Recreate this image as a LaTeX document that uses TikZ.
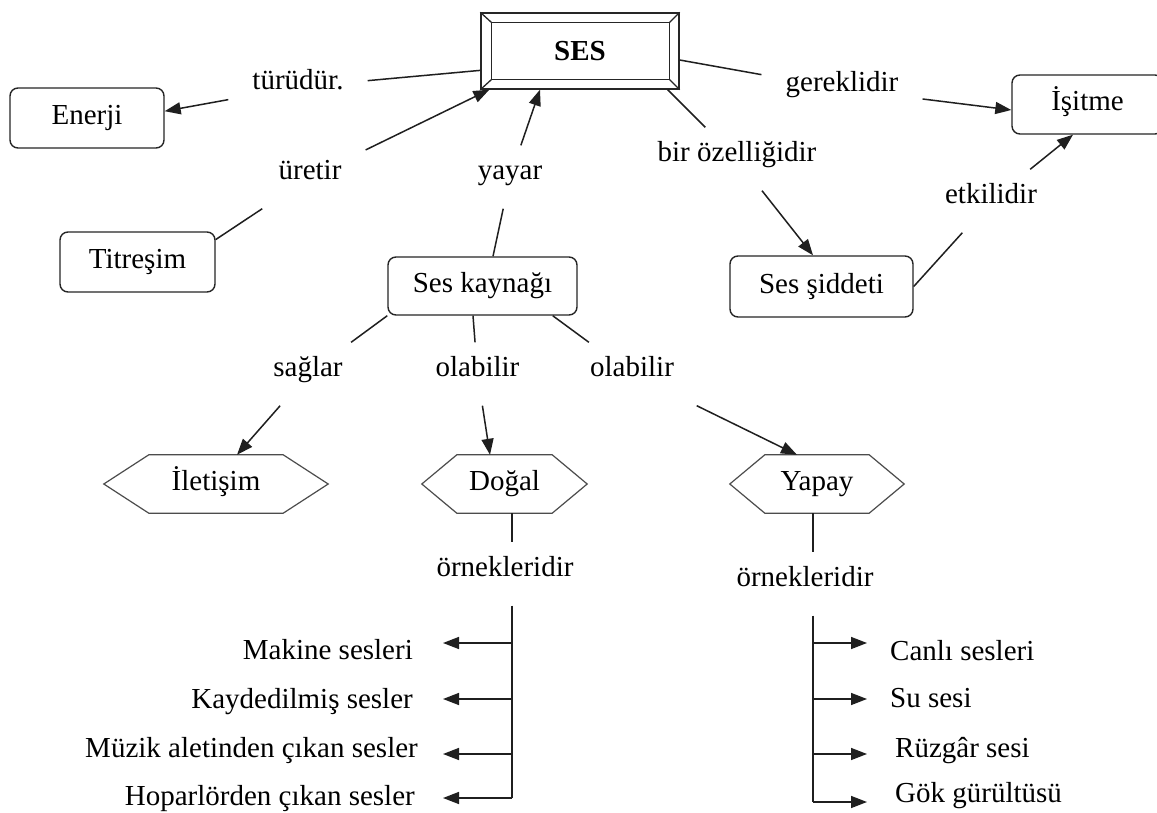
\documentclass[tikz,border=0pt]{standalone}
\usepackage{fontspec}
\setmainfont{Liberation Serif}
\usetikzlibrary{arrows.meta}
\tikzset{
  base/.style={font=\fontsize{29}{33}\selectfont},
  concept/.style={base, draw=black!85, line width=1.4pt, rounded corners=8pt, fill=white, inner sep=0pt, text height=19pt, text depth=6pt},
  hexnode/.style={base, inner sep=0pt, minimum height=58pt, text height=19pt, text depth=6pt},
  hexline/.style={draw=black!70, line width=1.2pt},
  lab/.style={base, inner xsep=24pt, inner ysep=19pt, text height=19pt, text depth=6pt},
  conn/.style={draw=black!88, line width=1.5pt},
  arr/.style={conn, -{Triangle[length=16pt,width=12pt]}},
  item/.style={base, inner sep=0pt},
  sesframe/.style={draw=black!85, line width=1.3pt},
}
\newcommand{\lt}[1]{\raisebox{4pt}{#1}}
\begin{document}
\begin{tikzpicture}[x=1pt,y=1pt]
\clip (0,0) rectangle (1157,-813);
\fill[white] (0,0) rectangle (1157,-813);

% SES frame
\node[sesframe, minimum width=198pt, minimum height=76pt, inner sep=0pt, font=\fontsize{29}{33}\selectfont\bfseries] (ses) at (580,-51) {SES};
\draw[sesframe] ([shift={(11,-10)}]ses.north west) rectangle ([shift={(-10,10)}]ses.south east);
\draw[sesframe] (ses.north west) -- ([shift={(11,-10)}]ses.north west);
\draw[sesframe] (ses.north east) -- ([shift={(-10,-10)}]ses.north east);
\draw[sesframe] (ses.south west) -- ([shift={(11,10)}]ses.south west);
\draw[sesframe] (ses.south east) -- ([shift={(-10,10)}]ses.south east);

% concepts
\node[concept, minimum width=154pt, minimum height=60pt] (ene) at (87,-118) {Enerji};
\node[concept, minimum width=155pt, minimum height=60pt] (tit) at (137.5,-262) {Titreşim};
\node[concept, minimum width=189pt, minimum height=58pt] (kay) at (482.5,-286) {Ses kaynağı};
\node[concept, minimum width=183pt, minimum height=61pt] (sid) at (821.5,-286.5) {Ses şiddeti};
\node[concept, minimum width=151pt, minimum height=59pt] (isi) at (1087.5,-104.5) {İşitme};

% hexagons
\node[hexnode, minimum width=224pt] (ile) at (216,-484) {İletişim};
\draw[hexline] (ile.west) -- ([xshift=45pt]ile.north west) -- ([xshift=-45pt]ile.north east) -- (ile.east) -- ([xshift=-45pt]ile.south east) -- ([xshift=45pt]ile.south west) -- cycle;
\node[hexnode, minimum width=165pt] (dog) at (504.5,-484) {Doğal};
\draw[hexline] (dog.west) -- ([xshift=35pt]dog.north west) -- ([xshift=-35pt]dog.north east) -- (dog.east) -- ([xshift=-35pt]dog.south east) -- ([xshift=35pt]dog.south west) -- cycle;
\node[hexnode, minimum width=174pt] (yap) at (817,-484) {Yapay};
\draw[hexline] (yap.west) -- ([xshift=35pt]yap.north west) -- ([xshift=-35pt]yap.north east) -- (yap.east) -- ([xshift=-35pt]yap.south east) -- ([xshift=35pt]yap.south west) -- cycle;

% linking phrases
\node[lab] (l1) at (298,-87) {\lt{türüdür.}};
\node[lab] (l2) at (310,-177) {\lt{üretir}};
\node[lab] (l3) at (510,-177) {\lt{yayar}};
\node[lab] (l4) at (737,-159) {\lt{bir özelliğidir}};
\node[lab] (l5) at (842,-89) {\lt{gereklidir}};
\node[lab] (l6) at (991,-201) {\lt{etkilidir}};
\node[lab] (l7) at (308,-374) {\lt{sağlar}};
\node[lab] (l8) at (477.5,-374) {\lt{olabilir}};
\node[lab] (l9) at (632,-374) {\lt{olabilir}};
\node[lab] (o1) at (505,-574) {\lt{örnekleridir}};
\node[lab] (o2) at (805,-584) {\lt{örnekleridir}};

% connectors
\draw[conn] (ses.191) -- (l1);
\draw[arr] (l1) -- (ene.5);
\draw[conn] (tit.16) -- (l2);
\draw[arr] (l2) -- ([xshift=9pt]ses.south west);
\draw[conn] ([xshift=10.5pt]kay.north) -- (l3);
\draw[arr] (l3) -- ([xshift=-40pt]ses.south);
\draw[conn] ([xshift=-12pt]ses.south east) -- (l4);
\draw[arr] (l4) -- ([xshift=-8.5pt]sid.north);
\draw[conn] ([yshift=-9pt]ses.east) -- (l5);
\draw[arr] (l5) -- ([yshift=-5.5pt]isi.west);
\draw[conn] (sid.east) -- (l6);
\draw[arr] (l6) -- ([xshift=-14.5pt]isi.south);
\draw[conn] (kay.south west) -- (l7);
\draw[arr] (l7) -- ([xshift=21pt]ile.north);
\draw[conn] ([xshift=-9.5pt]kay.south) -- (l8);
\draw[arr] (l8) -- ([xshift=-14.5pt]dog.north);
\draw[conn] ([xshift=-25pt]kay.south east) -- (l9);
\draw[arr] (l9) -- ([xshift=-20pt]yap.north);

% left list
\coordinate (a1) at (512,-643);
\coordinate (a2) at (512,-699);
\coordinate (a3) at (512,-754);
\coordinate (a4) at (512,-798);
\coordinate (t1) at (443,-643);
\coordinate (t2) at (443,-699);
\coordinate (t3) at (443,-754);
\coordinate (t4) at (443,-798);
\draw[conn] (dog.south -| a1) -- (o1.north -| a1);
\draw[conn] (o1.south -| a1) -- (a4);
\draw[arr] (a1) -- (t1);
\draw[arr] (a2) -- (t2);
\draw[arr] (a3) -- (t3);
\draw[arr] (a4) -- (t4);
\node[item, anchor=base east] (m1) at (413,-659) {Makine sesleri};
\node[item, anchor=base east] (m2) at (413,-708) {Kaydedilmiş sesler};
\node[item, anchor=base east] (m3) at (418,-757) {Müzik aletinden çıkan sesler};
\node[item, anchor=base east] (m4) at (415,-805) {Hoparlörden çıkan sesler};

% right list
\coordinate (b1) at (813,-643);
\coordinate (b2) at (813,-699);
\coordinate (b3) at (813,-754);
\coordinate (b4) at (813,-802);
\coordinate (s1) at (867,-643);
\coordinate (s2) at (867,-699);
\coordinate (s3) at (867,-754);
\coordinate (s4) at (867,-802);
\draw[conn] (yap.south -| b1) -- (o2.north -| b1);
\draw[conn] (o2.south -| b1) -- (b4);
\draw[arr] (b1) -- (s1);
\draw[arr] (b2) -- (s2);
\draw[arr] (b3) -- (s3);
\draw[arr] (b4) -- (s4);
\node[item, anchor=base west] (n1) at (890,-660) {Canlı sesleri};
\node[item, anchor=base west] (n2) at (890,-707) {Su sesi};
\node[item, anchor=base west] (n3) at (895,-757) {Rüzgâr sesi};
\node[item, anchor=base west] (n4) at (895,-802) {Gök gürültüsü};
\end{tikzpicture}
\end{document}
